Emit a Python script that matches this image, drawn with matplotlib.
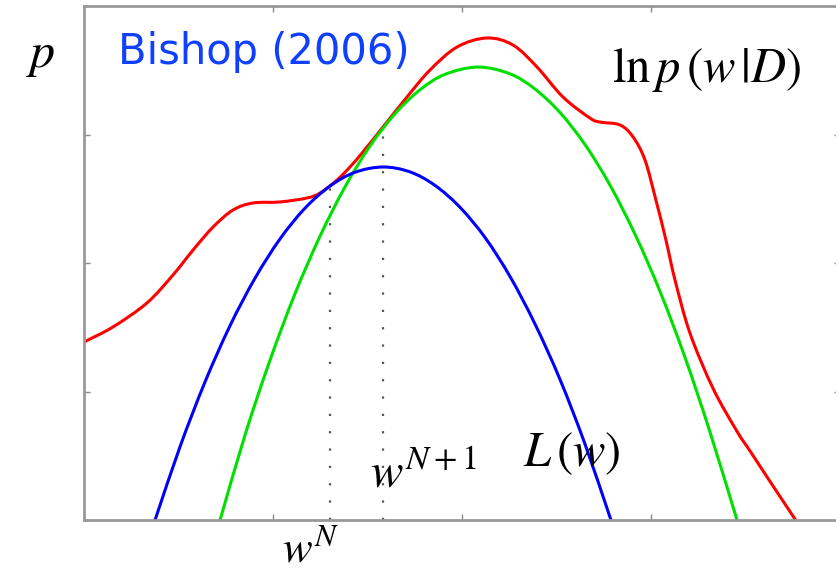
import matplotlib.pyplot as plt
import numpy as np
from matplotlib.path import Path
from matplotlib.patches import PathPatch

plt.rcParams['mathtext.fontset'] = 'stix'

# log posterior ln p(w|D)
post_x = [0.000, 0.153, 0.333, 0.471, 0.577, 0.683, 0.788, 0.894, 1.037, 1.180,
          1.249, 1.339, 1.407, 1.476, 1.582, 1.709, 1.831, 1.974, 2.132, 2.270,
          2.397, 2.534, 2.677, 2.730, 2.836, 2.905, 2.968, 3.026, 3.079, 3.127,
          3.206, 3.328, 3.455, 3.524, 3.614, 3.765]
post_y = [1.385, 1.502, 1.689, 1.907, 2.101, 2.280, 2.412, 2.467, 2.475, 2.506,
          2.545, 2.646, 2.747, 2.864, 3.058, 3.292, 3.502, 3.681, 3.751, 3.696,
          3.525, 3.292, 3.128, 3.097, 3.074, 2.981, 2.802, 2.490, 2.179, 1.868,
          1.455, 1.025, 0.690, 0.537, 0.335, 0.000]

# lower bound L(w) at w^N
low_x = [0.376, 0.508, 0.640, 0.772, 0.905, 1.037, 1.169, 1.302, 1.434, 1.582,
         1.725, 1.857, 1.989, 2.122, 2.254, 2.386, 2.519, 2.651, 2.788]
low_y = [0.000, 0.570, 1.073, 1.510, 1.882, 2.187, 2.426, 2.599, 2.706, 2.747,
         2.709, 2.604, 2.434, 2.198, 1.895, 1.526, 1.092, 0.590, 0.000]

# new bound at w^{N+1}
new_x = [0.720, 0.852, 0.984, 1.116, 1.249, 1.381, 1.513, 1.646, 1.778, 1.910,
         2.085, 2.254, 2.386, 2.519, 2.651, 2.783, 2.915, 3.048, 3.180, 3.312, 3.455]
new_y = [0.000, 0.661, 1.243, 1.759, 2.209, 2.592, 2.910, 3.162, 3.348, 3.468,
         3.525, 3.472, 3.354, 3.170, 2.921, 2.606, 2.225, 1.778, 1.265, 0.685, 0.000]

w_n = 1.302
w_n1 = 1.582
w_n_top = 2.60
w_n1_top = 3.06


def smooth_path(xs, ys):
    # Catmull-Rom through the points, written as cubic Bezier segments
    p = np.column_stack([xs, ys])
    p = np.vstack([2 * p[0] - p[1], p, 2 * p[-1] - p[-2]])
    verts = [p[1]]
    codes = [Path.MOVETO]
    for i in range(1, len(p) - 2):
        c1 = p[i] + (p[i + 1] - p[i - 1]) / 6
        c2 = p[i + 1] - (p[i + 2] - p[i]) / 6
        verts += [c1, c2, p[i + 1]]
        codes += [Path.CURVE4] * 3
    return Path(verts, codes)


def draw_curve(ax, xs, ys, color):
    ax.add_patch(PathPatch(smooth_path(xs, ys), facecolor='none',
                           edgecolor=color, lw=2.2, capstyle='round'))


fig = plt.figure(figsize=(8.36, 5.74), dpi=100)
ax = fig.add_axes([84/836, 54/574, 756/836, 514/574])

draw_curve(ax, post_x, post_y, '#ff0000')
draw_curve(ax, new_x, new_y, '#00e000')
draw_curve(ax, low_x, low_y, '#0000ff')

ax.plot([w_n, w_n], [0, w_n_top], color='#555555', lw=1.6, ls=(0, (1, 6.8)))
ax.plot([w_n1, w_n1], [0, w_n1_top], color='#555555', lw=1.6, ls=(0, (1, 6.8)))

ax.set_xlim(0, 4)
ax.set_ylim(0, 4)
ax.set_xticks([1, 2, 3])
ax.set_yticks([1, 2, 3])
ax.set_xticklabels([])
ax.set_yticklabels([])
ax.tick_params(direction='in', length=4, width=1, color='#888888',
               top=True, right=True)
for s in ax.spines.values():
    s.set_color('#999999')
    s.set_linewidth(2)

fig.text(41/836, 1 - 55/574, r'$p$', fontsize=36, ha='center', va='center')
fig.text(118/836, 1 - 52/574, 'Bishop (2006)', color='#1040ff', fontsize=30,
         family='DejaVu Sans', ha='left', va='center')
fig.text(612/836, 1 - 70/574, r'$\mathrm{ln}\,p\,(w\,|D)$', fontsize=35,
         ha='left', va='center')
fig.text(523/836, 1 - 453/574, r'$L\,(w)$', fontsize=35, ha='left', va='center')
fig.text(370/836, 1 - 474/574, r'$w^{N+1}$', fontsize=35, ha='left', va='center')
fig.text(282/836, 1 - 562/574, r'$w^{N}$', fontsize=32, ha='left', va='baseline')

fig.savefig('out.png', dpi=100)
